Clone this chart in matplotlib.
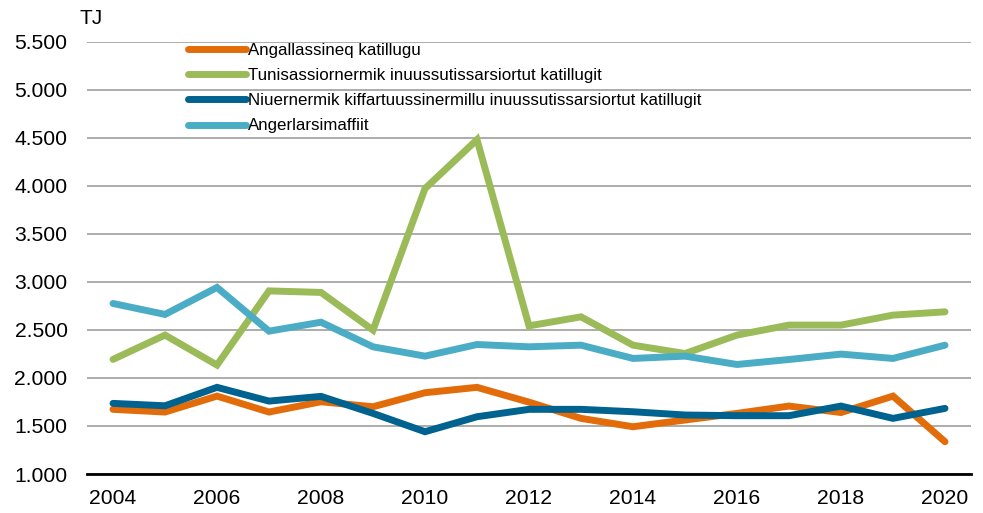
import matplotlib
matplotlib.use("Agg")
import matplotlib.pyplot as plt
from matplotlib.ticker import FuncFormatter, MultipleLocator

plt.rcParams['font.family'] = ['Liberation Sans', 'DejaVu Sans']

years = list(range(2004, 2021))
series_names = [
    "Angallassineq katillugu",
    "Tunisassiornermik inuussutissarsiortut katillugit",
    "Niuernermik kiffartuussinermillu inuussutissarsiortut katillugit",
    "Angerlarsimaffiit",
]
angallassineq = [1673, 1645, 1811, 1645, 1752, 1700, 1846, 1902, 1748, 1579, 1492, 1562, 1631, 1707, 1640, 1811, 1336]
tunisassiornermik = [2193, 2446, 2134, 2906, 2890, 2498, 3971, 4480, 2542, 2636, 2341, 2254, 2446, 2550, 2550, 2654, 2688]
niuernermik = [1735, 1710, 1902, 1759, 1808, 1631, 1440, 1596, 1673, 1673, 1648, 1614, 1607, 1607, 1707, 1579, 1683]
angerlarsimaffiit = [2775, 2661, 2942, 2487, 2580, 2324, 2227, 2348, 2324, 2341, 2203, 2227, 2140, 2192, 2248, 2203, 2341]
colors = ['#E36C0A', '#9BBB59', '#00628F', '#4BACC6']
xtick_years = list(range(2004, 2021, 2))

fig = plt.figure(figsize=(9.83, 5.13), dpi=100)
ax = fig.add_axes([87/983, 1 - 474/513, (971 - 87)/983, (474 - 41.7)/513])

for name, vals, c in zip(series_names,
                         [angallassineq, tunisassiornermik, niuernermik, angerlarsimaffiit],
                         colors):
    ax.plot(years, vals, color=c, lw=5, solid_capstyle='round', solid_joinstyle='miter', label=name, zorder=3)

ax.set_xlim(2003.5, 2020.5)
ax.set_ylim(1000, 5500)
ax.yaxis.set_major_locator(MultipleLocator(500))
ax.yaxis.set_major_formatter(FuncFormatter(lambda v, p: f"{int(v):,}".replace(",", ".")))
ax.set_xticks(xtick_years)
ax.grid(axis='y', color='#A6A6A6', lw=1.3, zorder=1)
for s in ['left', 'right', 'top']:
    ax.spines[s].set_visible(False)
ax.spines['bottom'].set_color('black')
ax.spines['bottom'].set_linewidth(2)
ax.spines['bottom'].set_zorder(4)
ax.tick_params(axis='both', length=0, labelsize=15.2, colors='black')
ax.tick_params(axis='y', pad=14)
ax.tick_params(axis='x', pad=11)

fig.text(80/983, 1 - 18/513, "TJ", fontsize=15, va='center', ha='left')

leg = ax.legend(loc='upper left', bbox_to_anchor=(188/983, 1 - 43/513), bbox_transform=fig.transFigure,
                frameon=False, prop={'family': ['Liberation Sans', 'DejaVu Sans'], 'size': 12.2},
                handlelength=3.4, handletextpad=0.12,
                labelspacing=0.6, borderpad=0, borderaxespad=0)

fig.savefig("out.png", dpi=100)
